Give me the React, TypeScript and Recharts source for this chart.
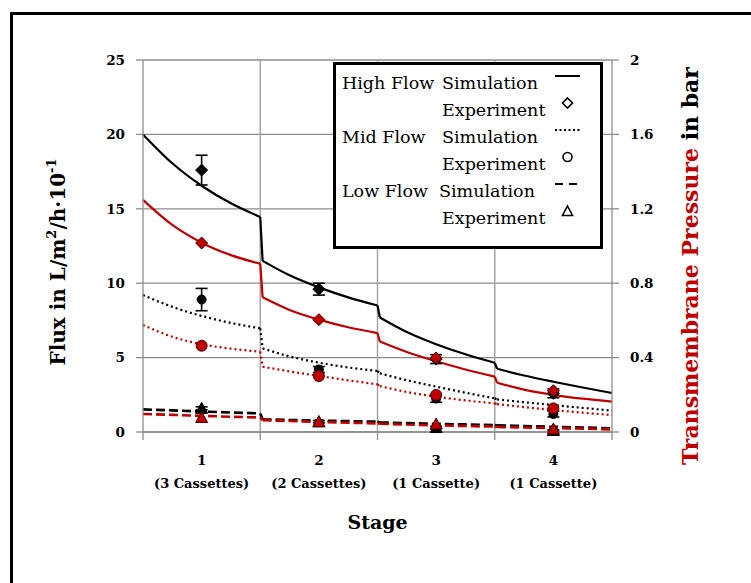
import React from 'react';
import {
  ComposedChart,
  Line,
  Scatter,
  XAxis,
  YAxis,
  CartesianGrid,
  ReferenceLine,
  ErrorBar,
  Legend,
} from 'recharts';

// ---------- data ----------
// simulation sample positions along the process (stage boundaries at 1, 2, 3)
const simX = [0, 0.25, 0.5, 0.75, 1, 1.02, 1.25, 1.5, 1.75, 2, 2.02, 2.25, 2.5, 2.75, 3, 3.02, 3.25, 3.5, 3.75, 4];

// flux in L/m²/h·10^-1 (left axis)
const highFluxSim = [20.0, 18.06, 16.55, 15.37, 14.45, 11.5, 10.53, 9.72, 9.05, 8.5, 7.7, 6.72, 5.9, 5.22, 4.65, 4.25, 3.8, 3.38, 2.99, 2.62];
const midFluxSim = [9.2, 8.41, 7.8, 7.33, 6.97, 5.62, 5.08, 4.66, 4.34, 4.1, 3.94, 3.48, 3.05, 2.64, 2.26, 2.19, 2.0, 1.81, 1.62, 1.43];
const lowFluxSim = [1.52, 1.45, 1.38, 1.31, 1.25, 0.85, 0.81, 0.77, 0.73, 0.7, 0.64, 0.6, 0.55, 0.51, 0.47, 0.45, 0.4, 0.35, 0.3, 0.25];

// transmembrane pressure in bar (right axis)
const highTmpSim = [1.248, 1.113, 1.018, 0.951, 0.905, 0.724, 0.656, 0.604, 0.563, 0.532, 0.486, 0.43, 0.38, 0.336, 0.298, 0.265, 0.228, 0.2, 0.179, 0.163];
const midTmpSim = [0.575, 0.512, 0.472, 0.448, 0.432, 0.351, 0.326, 0.301, 0.278, 0.256, 0.247, 0.215, 0.19, 0.17, 0.154, 0.15, 0.134, 0.118, 0.104, 0.091];
const lowTmpSim = [0.097, 0.092, 0.087, 0.082, 0.078, 0.064, 0.059, 0.054, 0.05, 0.046, 0.044, 0.04, 0.036, 0.032, 0.029, 0.027, 0.024, 0.021, 0.018, 0.014];

// experiments, one per stage
const stageX = [0.5, 1.5, 2.5, 3.5];
const highFluxExp = [17.6, 9.6, 4.9, 2.6];
const highFluxErr = [1.0, 0.4, 0.3, 0.3];
const midFluxExp = [8.9, 4.2, 2.25, 1.21];
const midFluxErr = [0.75, 0.2, 0.25, 0.2];
const lowFluxExp = [1.59, 0.69, 0.3, 0.1];
const lowFluxErr = [0.1, 0.08, 0.08, 0.05];
const highTmpExp = [1.016, 0.604, 0.398, 0.222];
const midTmpExp = [0.464, 0.301, 0.199, 0.127];
const lowTmpExp = [0.078, 0.055, 0.043, 0.016];

// axis ticks and labels
const xTicks = [0, 0.5, 1, 1.5, 2, 2.5, 3, 3.5, 4];
const stageBoundaries = [1, 2, 3];
const stageNumbers = ['1', '2', '3', '4'];
const stageNotes = ['(3 Cassettes)', '(2 Cassettes)', '(1 Cassette)', '(1 Cassette)'];
const fluxTicks = [0, 5, 10, 15, 20, 25];
const tmpTicks = [0, 0.4, 0.8, 1.2, 1.6, 2];

const legendGroups = ['High Flow', '', 'Mid Flow', '', 'Low Flow', ''];
const legendLabels = ['Simulation', 'Experiment', 'Simulation', 'Experiment', 'Simulation', 'Experiment'];

// ---------- styles ----------
const RED = '#C00000';
const GRID = '#8c8c8c';
const FONT = '"DejaVu Serif", serif';
const DOTTED = '2 3';
const DASHED = '9 4';

// each stage is simulated separately; points 5k..5k+4 belong to stage k+1
const SEG_LEN = 5;
const segData = (ys: number[], k: number) =>
  simX.slice(k * SEG_LEN, (k + 1) * SEG_LEN).map((x, i) => ({ x, y: ys[k * SEG_LEN + i] }));
const jumpData = (ys: number[], k: number) => [
  { x: simX[k * SEG_LEN - 1], y: ys[k * SEG_LEN - 1] },
  { x: simX[k * SEG_LEN], y: ys[k * SEG_LEN] },
];
const exp = (ys: number[], errs?: number[]) =>
  stageX.map((x, i) => ({ x, y: ys[i], err: errs ? errs[i] : 0 }));

const curves = [
  { id: 'hf', ys: highFluxSim, axis: 'left', color: '#000', dash: undefined as string | undefined, w: 2.2 },
  { id: 'mf', ys: midFluxSim, axis: 'left', color: '#000', dash: DOTTED, w: 2.2 },
  { id: 'lf', ys: lowFluxSim, axis: 'left', color: '#000', dash: DASHED, w: 2.6 },
  { id: 'ht', ys: highTmpSim, axis: 'right', color: RED, dash: undefined as string | undefined, w: 2.2 },
  { id: 'mt', ys: midTmpSim, axis: 'right', color: RED, dash: DOTTED, w: 2.2 },
  { id: 'lt', ys: lowTmpSim, axis: 'right', color: RED, dash: DASHED, w: 2.6 },
];

const Diamond = (p: any) => {
  const { cx, cy, fill, stroke } = p;
  const r = 6;
  return (
    <polygon
      points={`${cx},${cy - r} ${cx + r},${cy} ${cx},${cy + r} ${cx - r},${cy}`}
      fill={fill}
      stroke={stroke}
      strokeWidth={1}
    />
  );
};
const CircleMark = (p: any) => {
  const { cx, cy, fill, stroke } = p;
  return <circle cx={cx} cy={cy} r={fill === RED ? 5.5 : 4.5} fill={fill} stroke={stroke} strokeWidth={1} />;
};
const Triangle = (p: any) => {
  const { cx, cy, fill, stroke } = p;
  return (
    <polygon
      points={`${cx},${cy - 6} ${cx + 6},${cy + 5} ${cx - 6},${cy + 5}`}
      fill={fill}
      stroke={stroke}
      strokeWidth={1}
    />
  );
};

const XTick = (props: any) => {
  const { x, y, payload } = props;
  const v = payload.value;
  if (Number.isInteger(v)) {
    return <line x1={x} x2={x} y1={y} y2={y + 8} stroke={GRID} strokeWidth={1.3} />;
  }
  const idx = stageX.indexOf(v);
  return (
    <g>
      <text x={x} y={y + 28} textAnchor="middle" dominantBaseline="central" fontFamily={FONT} fontWeight={700} fontSize={13.5} fill="#000">
        {stageNumbers[idx]}
      </text>
      <text x={x} y={y + 51} textAnchor="middle" dominantBaseline="central" fontFamily={FONT} fontWeight={700} fontSize={13} fill="#000">
        {stageNotes[idx]}
      </text>
    </g>
  );
};

const LeftTitle = (props: any) => {
  const vb = props.viewBox;
  const cx = vb.x - 25;
  const cy = vb.y + vb.height / 2 + 16;
  return (
    <text
      x={cx}
      y={cy}
      transform={`rotate(-90, ${cx}, ${cy})`}
      textAnchor="middle"
      dominantBaseline="central"
      fontFamily={FONT}
      fontWeight={700}
      fontSize={20}
      fill="#000"
    >
      Flux in L/m
      <tspan dy={-7} fontSize={13}>2</tspan>
      <tspan dy={7}>/h·10</tspan>
      <tspan dy={-7} fontSize={13}>-1</tspan>
    </text>
  );
};

const RightTitle = (props: any) => {
  const vb = props.viewBox;
  const cx = vb.x + 78;
  const cy = vb.y + vb.height / 2 + 20;
  return (
    <text
      x={cx}
      y={cy}
      transform={`rotate(-90, ${cx}, ${cy})`}
      textAnchor="middle"
      dominantBaseline="central"
      fontFamily={FONT}
      fontWeight={700}
      fontSize={22}
    >
      <tspan fill={RED}>Transmembrane Pressure</tspan>
      <tspan fill="#000"> in bar</tspan>
    </text>
  );
};

const BottomTitle = (props: any) => {
  const vb = props.viewBox;
  return (
    <text
      x={vb.x + vb.width / 2}
      y={vb.y + 90}
      textAnchor="middle"
      dominantBaseline="central"
      fontFamily={FONT}
      fontWeight={700}
      fontSize={19}
      fill="#000"
    >
      Stage
    </text>
  );
};

const LegendIcon = ({ i }: { i: number }) => {
  switch (i) {
    case 0:
      return <line x1={2} x2={27} y1={10} y2={10} stroke="#000" strokeWidth={2} />;
    case 1:
      return <polygon points="14.5,5 19.5,10 14.5,15 9.5,10" fill="#fff" stroke="#000" strokeWidth={1.6} />;
    case 2:
      return <line x1={2} x2={27} y1={10} y2={10} stroke="#000" strokeWidth={2} strokeDasharray="2 2.5" />;
    case 3:
      return <circle cx={14.5} cy={10} r={4.5} fill="#fff" stroke="#000" strokeWidth={1.6} />;
    case 4:
      return <line x1={2} x2={27} y1={10} y2={10} stroke="#000" strokeWidth={2} strokeDasharray="8 6" />;
    default:
      return <polygon points="14.5,5 19.5,14.5 9.5,14.5" fill="#fff" stroke="#000" strokeWidth={1.6} />;
  }
};

const LegendBox = () => (
  <div
    style={{
      width: '100%',
      height: '100%',
      boxSizing: 'border-box',
      border: '3px solid #000',
      background: '#fff',
      position: 'relative',
      fontFamily: FONT,
      fontSize: 17.5,
      color: '#000',
    }}
  >
    {legendLabels.map((label, i) => (
      <div key={i} style={{ position: 'absolute', left: 0, top: 5 + i * 27, width: '100%', height: 27, lineHeight: '27px', whiteSpace: 'nowrap' }}>
        <span style={{ position: 'absolute', left: 6 }}>{legendGroups[i]}</span>
        <span style={{ position: 'absolute', left: i === 4 ? 103 : 106 }}>{label}</span>
        <svg style={{ position: 'absolute', left: 217, top: -4 }} width={30} height={20}>
          <LegendIcon i={i} />
        </svg>
      </div>
    ))}
  </div>
);

export default function App() {
  const tickStyle = { fill: '#000', fontSize: 13.5, fontFamily: FONT, fontWeight: 700 };
  return (
    <div style={{ position: 'absolute', left: 0, top: 0, width: 751, height: 583, overflow: 'hidden', background: '#fff' }}>
      <div
        style={{
          position: 'absolute',
          left: 10,
          top: 12,
          width: 800,
          height: 700,
          border: '3px solid #000',
          boxSizing: 'border-box',
        }}
      />
      <div style={{ position: 'absolute', left: 0, top: 0 }}>
        <ComposedChart width={751} height={583} margin={{ top: 60, right: 79, bottom: 111, left: 83 }}>
          <CartesianGrid yAxisId="left" vertical={false} stroke={GRID} strokeWidth={1.3} />
          <XAxis
            type="number"
            dataKey="x"
            domain={[0, 4]}
            ticks={xTicks}
            interval={0}
            tick={<XTick />}
            tickLine={false}
            tickSize={0}
            tickMargin={0}
            height={40}
            axisLine={{ stroke: GRID, strokeWidth: 1.3 }}
            label={(p: any) => <BottomTitle {...p} />}
          />
          <YAxis
            yAxisId="left"
            type="number"
            domain={[0, 25]}
            ticks={fluxTicks}
            width={60}
            tick={tickStyle}
            tickSize={7}
            tickMargin={11}
            tickLine={{ stroke: GRID, strokeWidth: 1.3 }}
            axisLine={{ stroke: GRID, strokeWidth: 1.3 }}
            label={(p: any) => <LeftTitle {...p} />}
          />
          <YAxis
            yAxisId="right"
            orientation="right"
            type="number"
            domain={[0, 2]}
            ticks={tmpTicks}
            width={60}
            tick={tickStyle}
            tickSize={7}
            tickMargin={11}
            tickLine={{ stroke: GRID, strokeWidth: 1.3 }}
            axisLine={{ stroke: GRID, strokeWidth: 1.3 }}
            label={(p: any) => <RightTitle {...p} />}
          />
          {stageBoundaries.map((b) => (
            <ReferenceLine key={b} x={b} yAxisId="left" stroke="#a6a6a6" strokeWidth={1.5} />
          ))}

          {curves.flatMap((c) => [
            ...[0, 1, 2, 3].map((k) => (
              <Line
                key={`${c.id}-seg${k}`}
                yAxisId={c.axis}
                data={segData(c.ys, k)}
                dataKey="y"
                type="monotoneX"
                stroke={c.color}
                strokeWidth={c.w}
                strokeDasharray={c.dash}
                dot={false}
                isAnimationActive={false}
                legendType="none"
              />
            )),
            ...stageBoundaries.map((k) => (
              <Line
                key={`${c.id}-jump${k}`}
                yAxisId={c.axis}
                data={jumpData(c.ys, k)}
                dataKey="y"
                type="linear"
                stroke={c.color}
                strokeWidth={c.w}
                strokeDasharray={c.dash}
                dot={false}
                isAnimationActive={false}
                legendType="none"
              />
            )),
          ])}

          <Scatter yAxisId="left" data={exp(highFluxExp, highFluxErr)} dataKey="y" fill="#000" stroke="#000" shape={Diamond} isAnimationActive={false}>
            <ErrorBar dataKey="err" direction="y" width={6} stroke="#000" strokeWidth={1.6} />
          </Scatter>
          <Scatter yAxisId="left" data={exp(midFluxExp, midFluxErr)} dataKey="y" fill="#000" stroke="#000" shape={CircleMark} isAnimationActive={false}>
            <ErrorBar dataKey="err" direction="y" width={6} stroke="#000" strokeWidth={1.6} />
          </Scatter>
          <Scatter yAxisId="left" data={exp(lowFluxExp, lowFluxErr)} dataKey="y" fill="#000" stroke="#000" shape={Triangle} isAnimationActive={false}>
            <ErrorBar dataKey="err" direction="y" width={6} stroke="#000" strokeWidth={1.6} />
          </Scatter>
          <Scatter yAxisId="right" data={exp(highTmpExp)} dataKey="y" fill={RED} stroke="#400" shape={Diamond} isAnimationActive={false} />
          <Scatter yAxisId="right" data={exp(midTmpExp)} dataKey="y" fill={RED} stroke="#400" shape={CircleMark} isAnimationActive={false} />
          <Scatter yAxisId="right" data={exp(lowTmpExp)} dataKey="y" fill={RED} stroke="#400" shape={Triangle} isAnimationActive={false} />

          <Legend
            layout="vertical"
            align="center"
            verticalAlign="middle"
            wrapperStyle={{ left: 333, top: 62, width: 270, height: 187 }}
            content={() => <LegendBox />}
          />
        </ComposedChart>
      </div>
    </div>
  );
}
